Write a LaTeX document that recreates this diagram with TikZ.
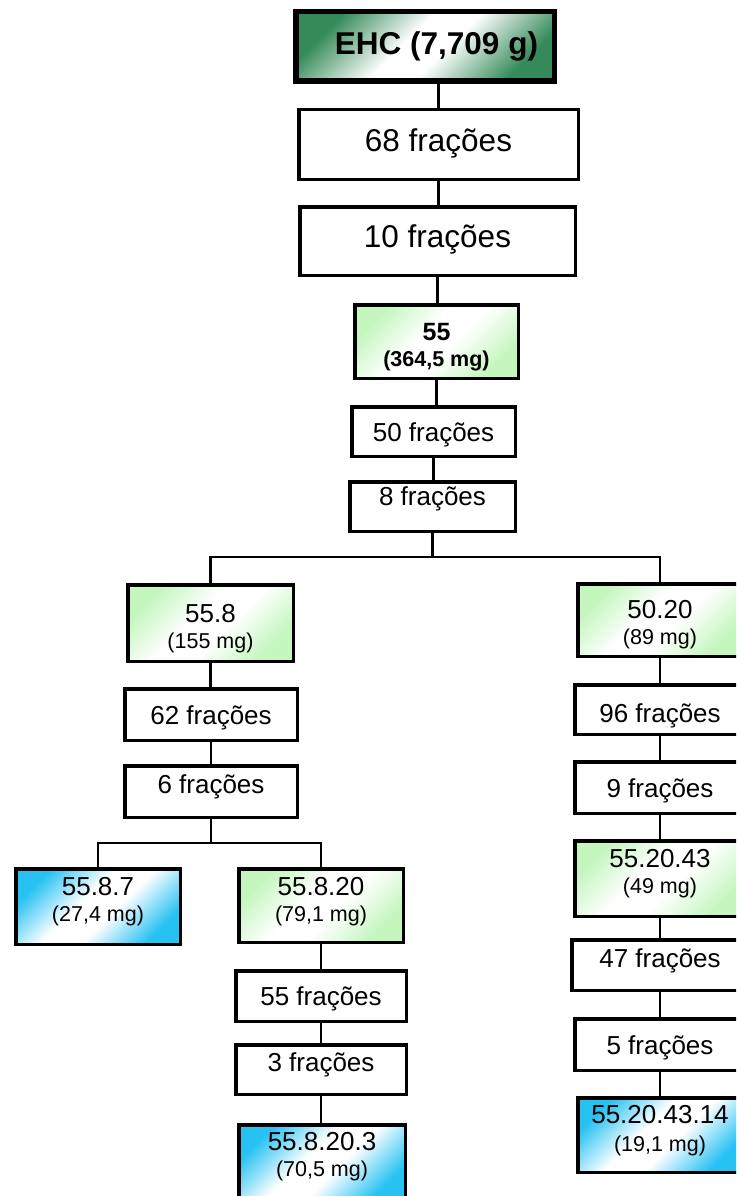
\documentclass[tikz,border=0pt]{standalone}
\usepackage{fontspec}
\setmainfont{Liberation Sans}

\definecolor{leafgreen}{RGB}{196,246,190}
\definecolor{leafblue}{RGB}{40,194,242}
\definecolor{rootgreen}{RGB}{52,138,88}

% diagonal fades: coloured ends, broad white middle
\pgfdeclareverticalshading{greenfade}{100bp}{color(0bp)=(leafgreen); color(25bp)=(leafgreen);
  color(44bp)=(white); color(56bp)=(white); color(75bp)=(leafgreen); color(100bp)=(leafgreen)}
\pgfdeclareverticalshading{bluefade}{100bp}{color(0bp)=(leafblue); color(25bp)=(leafblue);
  color(44bp)=(white); color(56bp)=(white); color(75bp)=(leafblue); color(100bp)=(leafblue)}
\pgfdeclareverticalshading{rootfade}{100bp}{color(0bp)=(rootgreen); color(25bp)=(rootgreen);
  color(45bp)=(white); color(55bp)=(white); color(75bp)=(rootgreen); color(100bp)=(rootgreen)}

% type sizes (1pt = 1px)
\newcommand\txtL{\fontsize{31.5}{36}\selectfont}
\newcommand\txtM{\fontsize{26}{26}\selectfont}
\newcommand\txtS{\fontsize{21.5}{26}\selectfont}
% label and weight, stacked and centred; baseline on the first line
\newcommand\twoline[2]{\begin{tabular}[t]{@{}c@{}}#1\\#2\end{tabular}}

\tikzset{
  box/.style={draw=black, line width=3.5pt, rectangle, inner sep=0pt,
    fill=white, font=\txtM},
  % outer width / outer height of a box, border included
  dims/.style 2 args={minimum width=#1-3.5pt, minimum height=#2-3.5pt},
  % first baseline lowered (blp) or raised (blm) by half the value from the centre
  blp/.style={text height=#1, text depth=0pt},
  blm/.style={text height=0pt, text depth=#1},
  greenbox/.style={box, shading=greenfade, shading angle=45},
  bluebox/.style={box, shading=bluefade, shading angle=45},
  rootbox/.style={box, line width=5.5pt, shading=rootfade, shading angle=45},
  link/.style={draw=black, line width=2.8pt},
}

\begin{document}
\begin{tikzpicture}[x=1pt, y=-1pt]
\useasboundingbox (0,0) rectangle (736,1196);
\clip (0,0) rectangle (736,1196);

% ---- main trunk
\node[rootbox, dims={262pt}{73pt}, blp=17pt, font=\txtL\bfseries] (ehc) at (425,46.5)
  {\hspace*{23pt}EHC (7,709 g)};
\node[box, dims={283pt}{73pt}, blp=13pt, font=\txtL] (f68) at (438.5,144.5) {68 frações};
\node[box, dims={279pt}{72pt}, blp=12pt, font=\txtL] (f10) at (437.5,241) {10 frações};
\node[greenbox, dims={167pt}{77pt}, blm=3pt, font=\fontsize{25}{26}\selectfont\bfseries] (n55) at (436.5,341.5)
  {\twoline{55}{\txtS\bfseries (364,5 mg)}};
\node[box, dims={167pt}{53pt}, blp=20pt] (f50) at (433.5,431.5) {50 frações};
\node[box, dims={169pt}{53pt}, blm=3pt] (f8) at (432.5,506.5) {8 frações};

% ---- left branch
\node[greenbox, dims={169pt}{80pt}, blm=2pt] (n558) at (210.5,623) {\twoline{55.8}{\txtS (155 mg)}};
\node[box, dims={176pt}{55pt}, blp=19pt] (f62) at (211,714.5) {62 frações};
\node[box, dims={176pt}{55pt}, blp=3pt] (f6) at (211,791.5) {6 frações};
\node[bluebox, dims={168pt}{79pt}, blm=23pt] (n5587) at (98,906.5) {\twoline{55.8.7}{\txtS (27,4 mg)}};
\node[greenbox, dims={168pt}{77pt}, blm=21pt] (n55820) at (321,905.5) {\twoline{55.8.20}{\txtS (79,1 mg)}};
\node[box, dims={174pt}{54pt}, blp=18pt] (f55) at (321,996) {55 frações};
\node[box, dims={174pt}{53pt}, blp=3pt] (f3) at (321,1069.5) {3 frações};
\node[bluebox, dims={170pt}{80pt}, blm=26pt] (n558203) at (322,1163) {\twoline{55.8.20.3}{\txtS (70,5 mg)}};

% ---- right branch
\node[greenbox, dims={168pt}{76pt}, blm=4pt] (n5020) at (660,620) {\twoline{50.20}{\txtS (89 mg)}};
\node[box, dims={174pt}{53pt}, blp=25pt] (f96) at (660,709.5) {96 frações};
\node[box, dims={174pt}{55pt}, blp=19pt] (f9) at (660,787.5) {9 frações};
\node[greenbox, dims={174pt}{79pt}, blm=23pt] (n552043) at (660,878.5) {\twoline{55.20.43}{\txtS (49 mg)}};
\node[box, dims={180pt}{54pt}, blp=4pt] (f47) at (660,965) {47 frações};
\node[box, dims={174pt}{55pt}, blp=19pt] (f5) at (660,1044.5) {5 frações};
\node[bluebox, dims={168pt}{78pt}, blm=24pt] (n55204314) at (660,1135)
  {\twoline{55.20.43.14}{\rule{0pt}{21pt}\txtS (19,1 mg)}};

% ---- junction points of the splits
\coordinate (j1) at (432.5,557);
\coordinate (j2) at (211,843);

% ---- connectors
\draw[link] (f68.north) -- (f68.north |- ehc.south);
\draw[link] (f68.south) -- (f68.south |- f10.north);
\draw[link] (f10.south) -- (f10.south |- n55.north);
\draw[link] (n55.south) -- (n55.south |- f50.north);
\draw[link] (f50.south) -- (f50.south |- f8.north);
\draw[link] (f8.south) -- (j1);
\draw[link] (n558.north) |- (j1) -| (n5020.north);

\draw[link] (n558.south) -- (n558.south |- f62.north);
\draw[link] (f62.south) -- (f62.south |- f6.north);
\draw[link] (f6.south) -- (j2);
\draw[link] (n5587.north) |- (j2) -| (n55820.north);
\draw[link] (n55820.south) -- (n55820.south |- f55.north);
\draw[link] (f55.south) -- (f55.south |- f3.north);
\draw[link] (f3.south) -- (f3.south |- n558203.north);

\draw[link] (n5020.south) -- (n5020.south |- f96.north);
\draw[link] (f96.south) -- (f96.south |- f9.north);
\draw[link] (f9.south) -- (f9.south |- n552043.north);
\draw[link] (n552043.south) -- (n552043.south |- f47.north);
\draw[link] (f47.south) -- (f47.south |- f5.north);
\draw[link] (f5.south) -- (f5.south |- n55204314.north);
\end{tikzpicture}
\end{document}
